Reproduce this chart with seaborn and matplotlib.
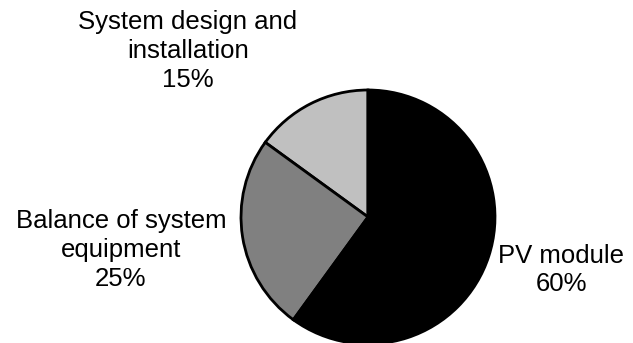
import matplotlib
matplotlib.use("Agg")
import matplotlib.pyplot as plt
import seaborn as sns

# cost breakdown of a PV system
labels = ["System design and\ninstallation", "Balance of system\nequipment", "PV module"]
shares = [15, 25, 60]
colors = ["#c0c0c0", "#808080", "#000000"]

sns.set_style("white")
plt.rcParams["font.family"] = ["Liberation Sans", "DejaVu Sans"]

fig = plt.figure(figsize=(6.33, 3.43), dpi=100)
ax = fig.add_axes([0.3807, -0.0029, 0.4013, 0.7405])

wedges, texts = ax.pie(
    shares, colors=colors, startangle=90, counterclock=True,
    labels=[f"{l}\n{s}%" for l, s in zip(labels, shares)],
    wedgeprops={"edgecolor": "black", "linewidth": 2},
    textprops={"fontsize": 18.5, "color": "black", "ha": "center",
               "va": "center", "linespacing": 1.25},
)
# manual label placement, as in the original
label_pos = [(-1.417, 1.307), (-1.945, -0.26), (1.52, -0.417)]
for t, (x, y) in zip(texts, label_pos):
    t.set_position((x, y))
    t.set_horizontalalignment("center")
    t.set_verticalalignment("center")

ax.set_xlim(-1, 1)
ax.set_ylim(-1, 1)
ax.set_aspect("equal")
ax.axis("off")

fig.savefig("out.png", dpi=100)
plt.close(fig)
